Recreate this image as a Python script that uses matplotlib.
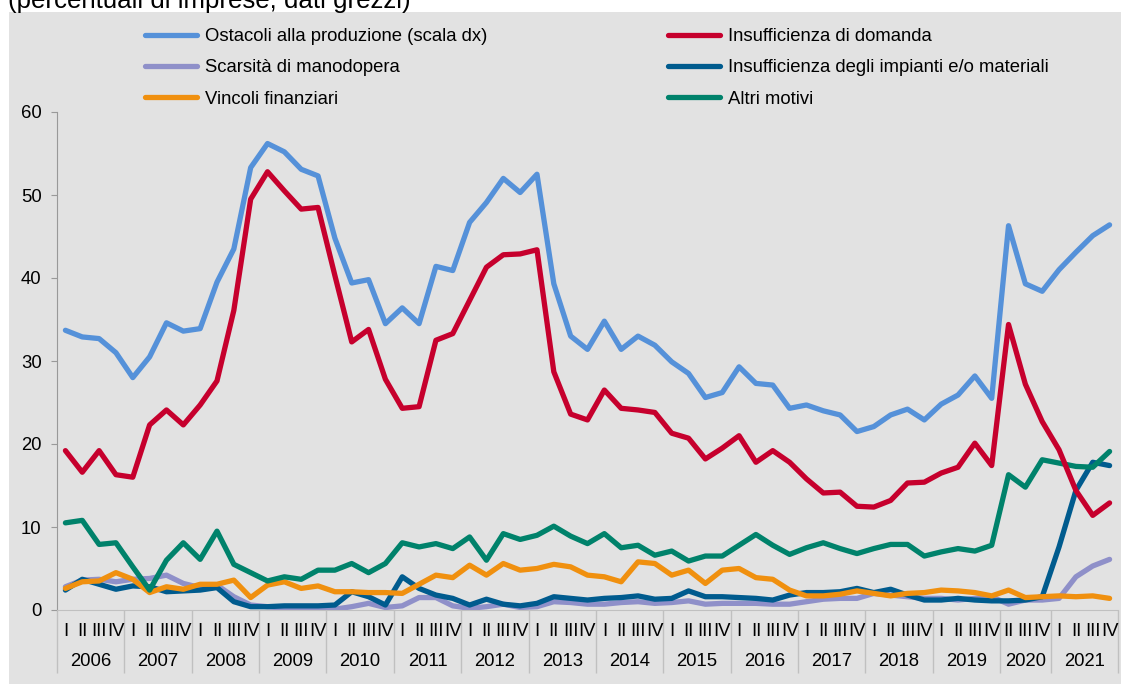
import matplotlib.pyplot as plt
from matplotlib.patches import Rectangle

plt.rcParams['font.family'] = ['Liberation Sans', 'DejaVu Sans']

# years and quarter labels (2020 has no Q1 observation)
years = ['2006', '2007', '2008', '2009', '2010', '2011', '2012', '2013',
         '2014', '2015', '2016', '2017', '2018', '2019', '2020', '2021']
year_quarters = [['I', 'II', 'III', 'IV']] * 14 + [['II', 'III', 'IV'], ['I', 'II', 'III', 'IV']]

ostacoli = [33.7, 32.9, 32.7, 31.0, 28.0, 30.5, 34.6, 33.6, 33.9, 39.5, 43.5, 53.3,
            56.2, 55.2, 53.1, 52.3, 44.8, 39.4, 39.8, 34.5, 36.4, 34.5, 41.4, 40.9,
            46.7, 49.1, 52.0, 50.3, 52.5, 39.3, 33.0, 31.4, 34.8, 31.4, 33.0, 31.9,
            29.9, 28.5, 25.6, 26.2, 29.3, 27.3, 27.1, 24.3, 24.7, 24.0, 23.5, 21.5,
            22.1, 23.5, 24.2, 22.9, 24.8, 25.9, 28.2, 25.5, 46.3, 39.3, 38.4,
            41.0, 43.1, 45.1, 46.4]
domanda = [19.2, 16.6, 19.2, 16.3, 16.0, 22.3, 24.1, 22.3, 24.7, 27.6, 36.1, 49.5,
           52.8, 50.5, 48.3, 48.5, 40.3, 32.3, 33.8, 27.8, 24.3, 24.5, 32.5, 33.3,
           37.3, 41.3, 42.8, 42.9, 43.4, 28.7, 23.6, 22.9, 26.5, 24.3, 24.1, 23.8,
           21.3, 20.7, 18.2, 19.5, 21.0, 17.8, 19.2, 17.8, 15.8, 14.1, 14.2, 12.5,
           12.4, 13.2, 15.3, 15.4, 16.5, 17.2, 20.1, 17.4, 34.4, 27.2, 22.7,
           19.3, 14.4, 11.4, 12.9]
manodopera = [2.8, 3.6, 3.7, 3.4, 3.7, 3.8, 4.2, 3.2, 2.7, 3.0, 1.6, 0.6,
              0.4, 0.2, 0.3, 0.2, 0.1, 0.4, 0.8, 0.3, 0.5, 1.5, 1.5, 0.5,
              0.2, 0.4, 0.7, 0.3, 0.4, 1.0, 0.9, 0.7, 0.7, 0.9, 1.0, 0.8,
              0.9, 1.1, 0.7, 0.8, 0.8, 0.8, 0.7, 0.7, 1.0, 1.3, 1.4, 1.4,
              2.0, 1.8, 1.6, 1.4, 1.4, 1.2, 1.4, 1.6, 0.7, 1.2, 1.2,
              1.4, 4.0, 5.3, 6.1]
impianti = [2.4, 3.7, 3.1, 2.5, 2.9, 2.8, 2.2, 2.3, 2.4, 2.7, 1.0, 0.4,
            0.4, 0.5, 0.5, 0.5, 0.6, 2.2, 1.6, 0.6, 4.0, 2.6, 1.8, 1.4,
            0.6, 1.3, 0.7, 0.5, 0.8, 1.6, 1.4, 1.2, 1.4, 1.5, 1.7, 1.3,
            1.4, 2.3, 1.6, 1.6, 1.5, 1.4, 1.2, 1.8, 2.1, 2.1, 2.2, 2.6,
            2.1, 2.5, 1.8, 1.2, 1.2, 1.4, 1.2, 1.1, 1.1, 1.2, 1.6,
            7.6, 14.4, 17.8, 17.4]
vincoli = [2.6, 3.4, 3.5, 4.5, 3.7, 2.1, 2.8, 2.5, 3.1, 3.1, 3.6, 1.5,
           3.0, 3.4, 2.6, 2.9, 2.2, 2.2, 2.1, 2.1, 2.0, 3.1, 4.2, 3.9,
           5.4, 4.2, 5.6, 4.8, 5.0, 5.5, 5.2, 4.2, 4.0, 3.4, 5.8, 5.6,
           4.2, 4.8, 3.2, 4.8, 5.0, 3.9, 3.7, 2.4, 1.7, 1.7, 1.9, 2.3,
           2.0, 1.7, 2.0, 2.1, 2.4, 2.3, 2.1, 1.7, 2.4, 1.5, 1.6,
           1.7, 1.6, 1.7, 1.4]
altri = [10.5, 10.8, 7.9, 8.1, 5.2, 2.4, 6.0, 8.1, 6.1, 9.5, 5.5, 4.5,
         3.5, 4.0, 3.7, 4.8, 4.8, 5.6, 4.5, 5.6, 8.1, 7.6, 8.0, 7.4,
         8.8, 6.0, 9.2, 8.5, 9.0, 10.1, 8.9, 8.0, 9.2, 7.5, 7.8, 6.6,
         7.1, 5.9, 6.5, 6.5, 7.8, 9.1, 7.8, 6.7, 7.5, 8.1, 7.4, 6.8,
         7.4, 7.9, 7.9, 6.5, 7.0, 7.4, 7.1, 7.8, 16.3, 14.8, 18.1,
         17.7, 17.3, 17.2, 19.1]

quarter_labels = [q for qs in year_quarters for q in qs]
x = list(range(len(quarter_labels)))

fs = 13.3
bg = '#e2e2e2'
fig = plt.figure(figsize=(11.23, 6.84), dpi=100, facecolor='white')
fig.patches.append(Rectangle((9 / 1123, 0), 1112 / 1123, 1 - 12 / 684,
                             transform=fig.transFigure, facecolor=bg, edgecolor='none', zorder=-5))
fig.text(8 / 1123, 1 - 8 / 684, '(percentuali di imprese; dati grezzi)',
         fontsize=18.6, va='baseline', ha='left')

ax = fig.add_axes([57 / 1123, 1 - 610 / 684, 1061 / 1123, 498 / 684])
ax.set_zorder(2)
ax.set_facecolor('none')

lw = 3.8
style = dict(lw=lw, solid_joinstyle='round', solid_capstyle='round')
l_ost, = ax.plot(x, ostacoli, color='#5591d9', zorder=6, label='Ostacoli alla produzione (scala dx)', **style)
l_man, = ax.plot(x, manodopera, color='#8f90c9', zorder=1, label='Scarsità di manodopera', **style)
l_vin, = ax.plot(x, vincoli, color='#f0900f', zorder=3, label='Vincoli finanziari', **style)
l_dom, = ax.plot(x, domanda, color='#c6002d', zorder=5, label='Insufficienza di domanda', **style)
l_imp, = ax.plot(x, impianti, color='#005b8e', zorder=2, label='Insufficienza degli impianti e/o materiali', **style)
l_alt, = ax.plot(x, altri, color='#00826b', zorder=4, label='Altri motivi', **style)

ax.set_ylim(0, 60)
ax.set_xlim(-0.5, len(x) - 0.5)
ax.set_yticks(range(0, 61, 10))
ax.tick_params(axis='y', length=4, color='#999999', pad=7, labelsize=fs)

# year boundaries as long major ticks, quarter names as minor tick labels
bounds = [-0.5]
for qs in year_quarters:
    bounds.append(bounds[-1] + len(qs))
ax.set_xticks(bounds)
ax.set_xticklabels([])
ax.tick_params(axis='x', which='major', length=45, color='#c0c0c0', width=1)
ax.set_xticks(x, minor=True)
ax.set_xticklabels(quarter_labels, minor=True)
ax.tick_params(axis='x', which='minor', length=0, pad=9, labelsize=fs)

for i, yr in enumerate(years):
    ax.annotate(yr, xy=((bounds[i] + bounds[i + 1]) / 2, 0), xycoords=('data', 'axes fraction'),
                xytext=(0, -37), textcoords='offset points', ha='center', va='center', fontsize=fs)

for s in ['top', 'right']:
    ax.spines[s].set_visible(False)
ax.spines['left'].set_color('#999999')
ax.spines['bottom'].set_color('#c0c0c0')

leg_kw = dict(loc='upper left', frameon=False, fontsize=fs, handlelength=2.8, handletextpad=0.43,
              labelspacing=0.78, borderpad=0, borderaxespad=0)
fig.legend(handles=[l_ost, l_man, l_vin], bbox_to_anchor=(145 / 1123, 1 - 28 / 684), **leg_kw)
fig.legend(handles=[l_dom, l_imp, l_alt], bbox_to_anchor=(668 / 1123, 1 - 28 / 684), **leg_kw)

fig.savefig('out.png', dpi=100, facecolor='white')
